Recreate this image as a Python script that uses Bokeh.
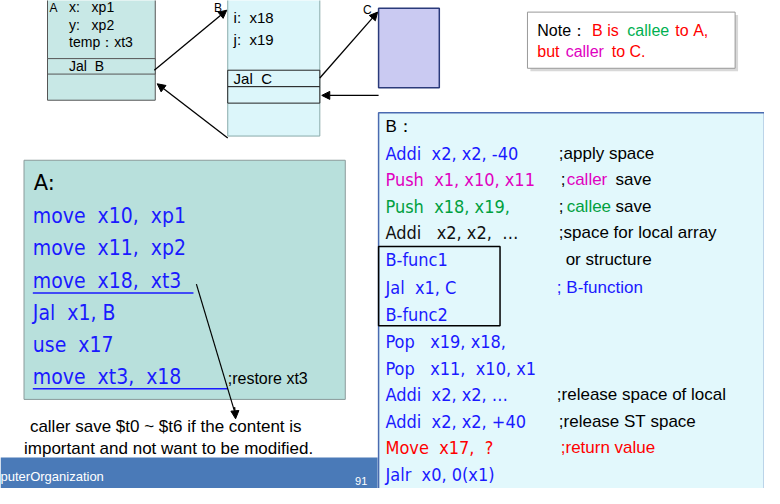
from bokeh.plotting import figure
from bokeh.models import Range1d, Arrow, NormalHead, ColumnDataSource
from bokeh.core.properties import value
from bokeh.embed import file_html
from bokeh.resources import INLINE

NB = "\u00a0"
def sp(s):
    return s.replace(" ", NB)

# ---- data (slide texts) ----
frame_a = ["x:   xp1", "y:   xp2", "temp：xt3", "Jal  B"]
frame_b = ["i:  x18", "j:  x19", "Jal  C"]
code_a = ["move  x10,  xp1", "move  x11,  xp2", "move  x18,  xt3", "Jal  x1, B", "use  x17", "move  xt3,  x18"]
code_b = ["Addi  x2, x2, -40", "Push  x1, x10, x11", "Push  x18, x19,", "Addi   x2, x2,  …", "B-func1",
          "Jal  x1, C", "B-func2", "Pop   x19, x18,", "Pop   x11,  x10, x1", "Addi  x2, x2, …",
          "Addi  x2, x2, +40", "Move  x17,  ?", "Jalr  x0, 0(x1)"]
code_b_colors = ["#1a1aff", "#e000c0", "#00a040", "#111111", "#1a1aff", "#1a1aff", "#1a1aff",
                 "#1a1aff", "#1a1aff", "#1a1aff", "#1a1aff", "#ff0000", "#1a1aff"]
note_text = ["caller save $t0 ~ $t6 if the content is", "important and not want to be modified."]

p = figure(width=764, height=488, output_backend="svg", toolbar_location=None,
           x_range=Range1d(0, 780), y_range=Range1d(504, 0), min_border=0)
p.axis.visible = False
p.grid.visible = False
p.outline_line_color = None

def box(l, r, t, b, fill, line="#555555", w=1):
    p.quad(left=l, right=r, top=t, bottom=b, fill_color=fill, line_color=line, line_width=w)

def txt(xs, ys, ts, size, color="black", font="Liberation Sans", style="normal"):
    if isinstance(color, str):
        color = [color] * len(ts)
    src = ColumnDataSource(dict(x=xs, y=ys, t=[sp(t) for t in ts], c=color))
    p.text(x="x", y="y", text="t", text_color="c", source=src, text_font=value(font),
           text_font_size=f"{size}px", text_baseline="middle", text_align="left", text_font_style=style)

# frame A
box(48, 158, -2, 103, "#c8e8e6")
box(48, 158, 60, 76, "#c8e8e6")
txt([50], [8], ["A"], 12)
txt([70, 70, 70, 70], [7, 25, 43, 68], frame_a, 14)
# frame B
box(232, 326, -2, 140, "#dcf6fa", "#88aaaa")
box(232, 326, 72, 89, "#dcf6fa", "#222222")
box(232, 326, 89, 106, "#dcf6fa", "#222222")
txt([218], [8], ["B"], 12)
txt([238, 238, 238], [18, 40, 81], frame_b, 15)
# C
txt([370], [10], ["C"], 12)
box(386, 448, 8, 90, "#cacaf2", "#2a3a7a", 1.5)

def arrow(x0, y0, x1, y1):
    p.add_layout(Arrow(x_start=x0, y_start=y0, x_end=x1, y_end=y1, line_width=1.3,
                       end=NormalHead(size=8, fill_color="black", line_color="black")))
arrow(157, 72, 231, 10)
arrow(232, 142, 160, 86)
arrow(326, 80, 385, 12)
arrow(386, 98, 328, 98)

# note box
box(541, 753, 15, 73, "#d8d8d8", None)
box(538, 750, 12, 70, "white", "#999999")
txt([548, 604, 640, 689], [31, 31, 31, 31], ["Note：", "B is", "callee", "to A,"], 16,
    ["black", "#ff0000", "#00b050", "#ff0000"])
txt([548, 577, 624], [53, 53, 53], ["but", "caller", "to C."], 16, ["#ff0000", "#e000c0", "#ff0000"])

# code A box
box(24, 352, 165, 412, "#b8e0dc", "#8a9a9a")
txt([34], [188], ["A:"], 21, "black", "DejaVu Sans")
txt([33] * 6, [223, 256, 290, 323, 356, 389], code_a, 21, "#1a1aff", "DejaVu Sans Condensed")
txt([232], [390], [";restore xt3"], 16)
p.segment(x0=[33, 33], y0=[302, 401], x1=[197, 232], y1=[302, 401], line_color="#1a1aff", line_width=1.5)
p.segment(x0=[200], y0=[293], x1=[240], y1=[428], line_color="black", line_width=1.2)
arrow(239, 420, 240, 432)
txt([30, 24], [440, 463], note_text, 17)

# bottom bar
box(0, 385, 472, 504, "#4a7ab8", None)
txt([0], [492], ["puterOrganization"], 13, "white")
txt([362], [496], ["91"], 11, "white")

# B box
box(386, 780, 116, 506, "#e2f8fc", "#4a6ab0", 1.5)
txt([393], [130], ["B："], 17)
rows = [158, 185, 213, 240, 268, 296, 324, 352, 380, 407, 435, 462, 490]
txt([393] * 13, rows, code_b, 18, code_b_colors, "DejaVu Sans Condensed")
box(386, 510, 254, 336, None, "black", 1.5)
txt([570, 572, 578, 628, 570, 578, 628, 570, 577, 568, 568, 570, 572],
    [158, 185, 185, 185, 213, 213, 213, 240, 268, 296, 407, 435, 462],
    [";apply space", ";", "caller", "save", ";", "callee", "save", ";space for local array",
     "or structure", "; B-function", ";release space of local", ";release ST space", ";return value"],
    17, ["black", "black", "#e000c0", "black", "black", "#00a040", "black", "black", "black",
         "#1a1aff", "black", "black", "#ff0000"])

open("out.html", "w").write(file_html(p, INLINE))
